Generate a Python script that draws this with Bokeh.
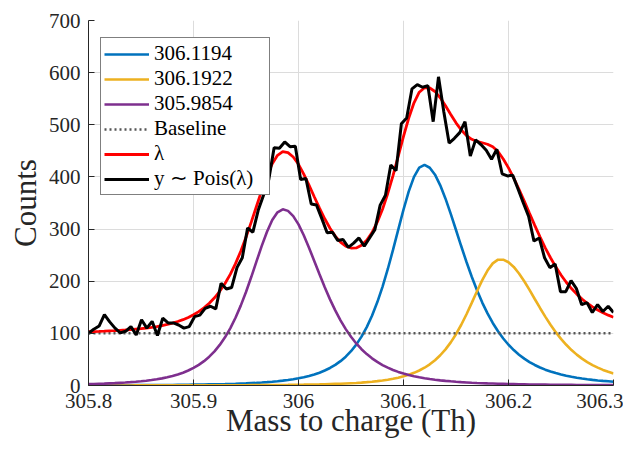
import numpy as np
from bokeh.plotting import figure
from bokeh.models import Range1d, FixedTicker, Legend, LegendItem
from bokeh.core.properties import value
from bokeh.embed import file_html
from bokeh.resources import INLINE

# ---- data ----
mz_fine = np.round(np.linspace(305.8, 306.3, 101), 4)

peak_306_1194 = [
    0.4, 0.4, 0.4, 0.5, 0.5, 0.5, 0.6, 0.6, 0.6, 0.7,
    0.7, 0.8, 0.8, 0.9, 1.0, 1.1, 1.1, 1.2, 1.3, 1.5,
    1.6, 1.7, 1.9, 2.1, 2.3, 2.5, 2.7, 3.0, 3.3, 3.7,
    4.1, 4.6, 5.1, 5.7, 6.4, 7.2, 8.2, 9.3, 10.5, 12.0,
    13.8, 15.8, 18.2, 21.1, 24.6, 28.7, 33.6, 39.5, 46.7, 55.3,
    65.8, 78.4, 93.7, 112.0, 133.8, 159.5, 189.3, 223.0, 260.0, 298.8,
    337.2, 372.2, 400.1, 417.8, 423.0, 417.6, 404.3, 383.9, 358.3, 329.1,
    298.2, 267.0, 236.8, 208.5, 182.5, 159.0, 138.2, 119.9, 104.0, 90.1,
    78.2, 67.9, 59.1, 51.5, 45.0, 39.4, 34.6, 30.4, 26.9, 23.8,
    21.1, 18.7, 16.7, 14.9, 13.4, 12.0, 10.8, 9.7, 8.8, 8.0,
    7.2]

peak_306_1922 = [
    0.1, 0.1, 0.1, 0.1, 0.1, 0.1, 0.1, 0.1, 0.1, 0.2,
    0.2, 0.2, 0.2, 0.2, 0.2, 0.2, 0.2, 0.3, 0.3, 0.3,
    0.3, 0.3, 0.3, 0.4, 0.4, 0.4, 0.5, 0.5, 0.5, 0.6,
    0.6, 0.7, 0.7, 0.8, 0.9, 0.9, 1.0, 1.1, 1.2, 1.4,
    1.5, 1.6, 1.8, 2.0, 2.2, 2.5, 2.8, 3.1, 3.4, 3.9,
    4.4, 4.9, 5.6, 6.4, 7.3, 8.4, 9.6, 11.1, 12.9, 15.0,
    17.6, 20.6, 24.3, 28.8, 34.1, 40.6, 48.5, 58.0, 69.3, 82.7,
    98.4, 116.5, 136.7, 158.4, 180.7, 202.1, 220.5, 234.2, 241.3, 241.3,
    236.4, 227.4, 214.9, 199.9, 183.3, 165.9, 148.7, 132.1, 116.6, 102.3,
    89.5, 78.1, 68.0, 59.2, 51.5, 44.9, 39.1, 34.2, 29.9, 26.2,
    23.0]

peak_305_9854 = [
    2.7, 3.0, 3.3, 3.6, 4.1, 4.5, 5.1, 5.7, 6.4, 7.2,
    8.1, 9.2, 10.5, 12.0, 13.7, 15.8, 18.3, 21.2, 24.6, 28.7,
    33.7, 39.6, 46.7, 55.3, 65.5, 77.8, 92.4, 109.7, 129.9, 153.2,
    179.4, 208.0, 238.0, 267.7, 294.9, 317.3, 332.2, 338.0, 334.9, 324.9,
    308.9, 288.1, 264.3, 238.9, 213.3, 188.5, 165.2, 144.0, 125.0, 108.1,
    93.4, 80.6, 69.6, 60.2, 52.1, 45.2, 39.2, 34.2, 29.8, 26.1,
    22.9, 20.2, 17.8, 15.8, 14.0, 12.4, 11.1, 9.9, 8.9, 8.0,
    7.2, 6.5, 5.9, 5.3, 4.8, 4.4, 4.0, 3.7, 3.3, 3.1,
    2.8, 2.6, 2.4, 2.2, 2.0, 1.9, 1.7, 1.6, 1.5, 1.4,
    1.3, 1.2, 1.2, 1.1, 1.0, 0.9, 0.9, 0.8, 0.8, 0.7,
    0.7]

baseline_level = 100

lam = [
    103.2, 103.5, 103.8, 104.2, 104.7, 105.1, 105.8, 106.4, 107.1, 108.1,
    109.0, 110.2, 111.5, 113.1, 114.9, 117.1, 119.6, 122.7, 126.2, 130.5,
    135.6, 141.6, 148.9, 157.8, 168.2, 180.7, 195.6, 213.2, 233.7, 257.5,
    284.1, 313.3, 343.8, 374.2, 402.2, 425.4, 441.4, 448.4, 446.6, 438.3,
    424.2, 405.5, 384.3, 362.0, 340.1, 319.7, 301.6, 286.6, 275.1, 267.3,
    263.6, 263.9, 268.9, 278.6, 293.2, 313.1, 338.1, 368.3, 402.7, 439.9,
    477.7, 513.0, 542.2, 562.4, 571.1, 570.6, 563.9, 551.8, 536.5, 519.8,
    503.8, 490.0, 479.4, 472.2, 468.0, 465.5, 462.7, 457.8, 448.6, 434.5,
    417.4, 397.9, 376.4, 353.6, 330.3, 307.2, 285.0, 264.1, 245.0, 227.5,
    211.9, 198.0, 185.9, 175.2, 165.9, 157.8, 150.8, 144.7, 139.5, 134.9,
    130.9]

mz_obs = np.linspace(305.8, 306.3, 100)
counts_obs = [
    100, 108, 114, 136, 122, 110, 101, 104, 113, 97,
    126, 110, 123, 96, 129, 120, 120, 116, 110, 113,
    132, 135, 148, 152, 147, 196, 185, 188, 226, 245,
    302, 294, 336, 365, 395, 456, 455, 467, 458, 459,
    395, 397, 348, 346, 320, 293, 294, 278, 280, 265,
    273, 283, 267, 283, 299, 346, 365, 423, 412, 502,
    513, 569, 577, 572, 575, 506, 592, 525, 465, 474,
    485, 506, 440, 471, 462, 451, 434, 453, 406, 402,
    403, 377, 350, 324, 277, 283, 245, 226, 233, 180,
    180, 201, 186, 155, 159, 140, 155, 142, 152, 140]

x_ticks = [305.8, 305.9, 306, 306.1, 306.2, 306.3]
x_tick_labels = ["305.8", "305.9", "306", "306.1", "306.2", "306.3"]
y_ticks = [0, 100, 200, 300, 400, 500, 600, 700]

FONT = "Liberation Serif"
TXT = "#262626"

p = figure(width=623, height=440, title=None,
           x_range=Range1d(305.8, 306.3), y_range=Range1d(0, 700),
           output_backend="svg", toolbar_location=None,
           min_border_left=88, min_border_right=10,
           min_border_top=20, min_border_bottom=54)
p.outline_line_color = None
p.background_fill_color = "white"
p.border_fill_color = "white"

# grids
p.xgrid.ticker = FixedTicker(ticks=x_ticks)
p.ygrid.ticker = FixedTicker(ticks=y_ticks)
for g in (p.xgrid, p.ygrid):
    g.grid_line_color = "#dcdcdc"
    g.grid_line_width = 1

# axes
p.xaxis.ticker = FixedTicker(ticks=x_ticks)
p.xaxis.major_label_overrides = {t: s for t, s in zip(x_ticks, x_tick_labels)}
p.yaxis.ticker = FixedTicker(ticks=y_ticks)
for ax in (p.xaxis, p.yaxis):
    ax.major_tick_in = 6
    ax.major_tick_out = 0
    ax.minor_tick_line_color = None
    ax.axis_line_color = TXT
    ax.major_tick_line_color = TXT
    ax.major_label_text_font = FONT
    ax.major_label_text_font_size = "21px"
    ax.major_label_text_color = TXT
    ax.major_label_standoff = 8
    ax.axis_label_text_font = FONT
    ax.axis_label_text_font_size = "31px"
    ax.axis_label_text_font_style = "normal"
    ax.axis_label_text_color = TXT
p.xaxis.axis_label = "Mass to charge (Th)"
p.xaxis.axis_label_standoff = -8
p.yaxis.axis_label = "Counts"
p.yaxis.axis_label_standoff = 3

# curves
r_b = p.line(mz_fine, peak_306_1194, line_color="#0072BD", line_width=2.6)
r_y = p.line(mz_fine, peak_306_1922, line_color="#EDB120", line_width=2.6)
r_p = p.line(mz_fine, peak_305_9854, line_color="#7E2F8E", line_width=2.6)
r_base = p.line(mz_fine, np.full(len(mz_fine), baseline_level), line_color="#555555",
                line_width=2.5, line_dash="2 3")
r_lam = p.line(mz_fine, lam, line_color="#FF0000", line_width=2.8)
r_obs = p.line(mz_obs, counts_obs, line_color="#000000", line_width=3)

legend = Legend(items=[
    LegendItem(label="306.1194", renderers=[r_b]),
    LegendItem(label="306.1922", renderers=[r_y]),
    LegendItem(label="305.9854", renderers=[r_p]),
    LegendItem(label="Baseline", renderers=[r_base]),
    LegendItem(label="λ", renderers=[r_lam]),
    LegendItem(label="y ∼ Pois(λ)", renderers=[r_obs]),
], location=(12, 190))
try:
    legend.label_text_font = value(FONT)
except Exception:
    legend.label_text_font = FONT
legend.label_text_font_style = "normal"
legend.label_text_font_size = "21px"
legend.label_text_color = "#000000"
legend.border_line_color = "#000000"
legend.border_line_width = 1
legend.background_fill_color = "white"
legend.background_fill_alpha = 1
legend.padding = 3
legend.spacing = 0
legend.glyph_width = 45
legend.glyph_height = 20
legend.label_height = 20
legend.label_standoff = 5
legend.label_width = 112
legend.margin = 0
p.add_layout(legend)

open("out.html", "w").write(file_html(p, INLINE))
